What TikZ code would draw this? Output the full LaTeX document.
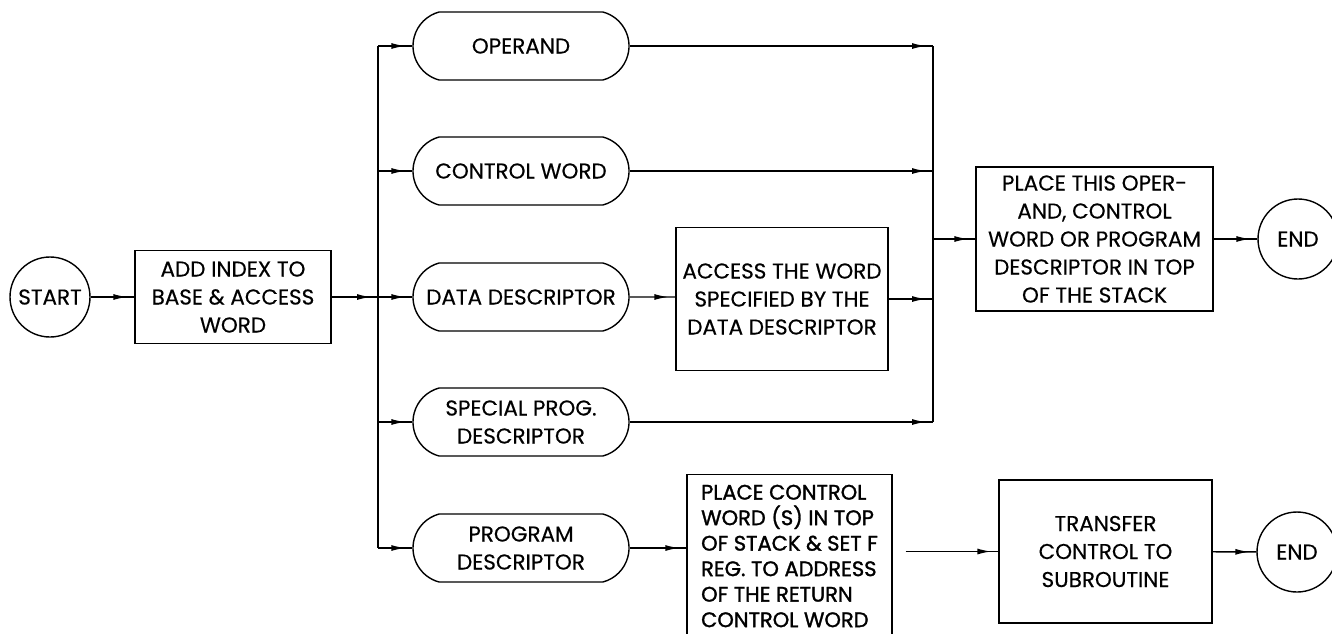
\documentclass[tikz,border=0pt]{standalone}
\usepackage{fontspec}
\setmainfont{Poppins}[FakeBold=0.4]
\newfontfamily\heavyfont[FakeBold=1.4]{Poppins}
\usetikzlibrary{shapes.misc,arrows.meta,decorations.markings}
\begin{document}
\begin{tikzpicture}[x=1pt,y=-1pt,
  line width=1.4pt,
  every node/.style={font=\fontsize{21.5}{28}\selectfont, inner sep=0pt, line width=1.4pt},
  box/.style={draw, rectangle, align=center},
  term/.style={draw, circle, minimum size=80pt},
  pill/.style={draw, rounded rectangle, rounded rectangle arc length=150, minimum width=216pt, minimum height=68pt, align=center},
  flow/.style={postaction={decorate}, decoration={markings, mark=at position -7pt with {\arrow{Latex[length=14pt,width=6pt]}}}}
]
\useasboundingbox (0,0) rectangle (1332,633);
\clip (0,0) rectangle (1332,633);

\node[term] (start) at (50,297) {START};
\node[box, minimum width=196pt, minimum height=93pt] (add) at (233,297) {ADD INDEX TO\\BASE \& ACCESS\\WORD};

\coordinate (bl) at (378,297);
\coordinate (bltop) at (378,46);
\coordinate (blbot) at (378,548);

\node[pill] (op) at (521,46) {OPERAND};
\node[pill] (cw) at (521,171) {CONTROL WORD};
\node[pill] (dd) at (521,297) {DATA DESCRIPTOR};
\node[pill] (sp) at (521,422) {SPECIAL PROG.\\DESCRIPTOR};
\node[pill] (pd) at (521,548) {PROGRAM\\DESCRIPTOR};

\node[box, minimum width=212pt, minimum height=143pt] (acc) at (782,299) {ACCESS THE WORD\\SPECIFIED BY THE\\DATA DESCRIPTOR};

\coordinate (brtop) at (933,46);
\coordinate (brbot) at (933,422);

\node[box, minimum width=237pt, minimum height=144pt] (place) at (1094.5,239) {PLACE THIS OPER-\\AND, CONTROL\\WORD OR PROGRAM\\DESCRIPTOR IN TOP\\OF THE STACK};
\node[term] (end1) at (1298,239) {END};

\node[box, minimum width=205pt, minimum height=163pt, align=left, font=\heavyfont\fontsize{21}{25.5}\selectfont] (pcw) at (789.5,556) {PLACE CONTROL\\WORD (S) IN TOP\\OF STACK \& SET F\\REG. TO ADDRESS\\OF THE RETURN\\CONTROL WORD};
\node[box, minimum width=213pt, minimum height=143pt] (tr) at (1105.5,551.5) {TRANSFER\\CONTROL TO\\SUBROUTINE};
\node[term] (end2) at (1297,552) {END};

\draw[flow] (start) -- (add);
\draw[flow] (add) -- (bl);
\draw (bltop) -- (blbot);
\draw[flow] (bltop) -- (op.west);
\draw[flow] (cw.west -| bl) -- (cw.west);
\draw[flow] (bl) -- (dd.west);
\draw[flow] (sp.west -| bl) -- (sp.west);
\draw[flow] (blbot) -- (pd.west);

\draw[flow] (op.east) -- (brtop);
\draw[flow] (cw.east) -- (cw.east -| brtop);
\draw[flow] (dd) -- (acc.west |- dd);
\draw[flow] (acc.east) -- (acc.east -| brtop);
\draw[flow] (sp.east) -- (brbot);
\draw (brtop) -- (brbot);
\draw[flow] (place.west -| brtop) -- (place.west);
\draw[flow] (place) -- (end1);

\draw[flow] (pd.east) -- (pd.east -| pcw.west);
\draw[flow, shorten <=13pt] (pcw.east |- tr.west) -- (tr.west);
\draw[flow] (tr) -- (end2);
\end{tikzpicture}
\end{document}
